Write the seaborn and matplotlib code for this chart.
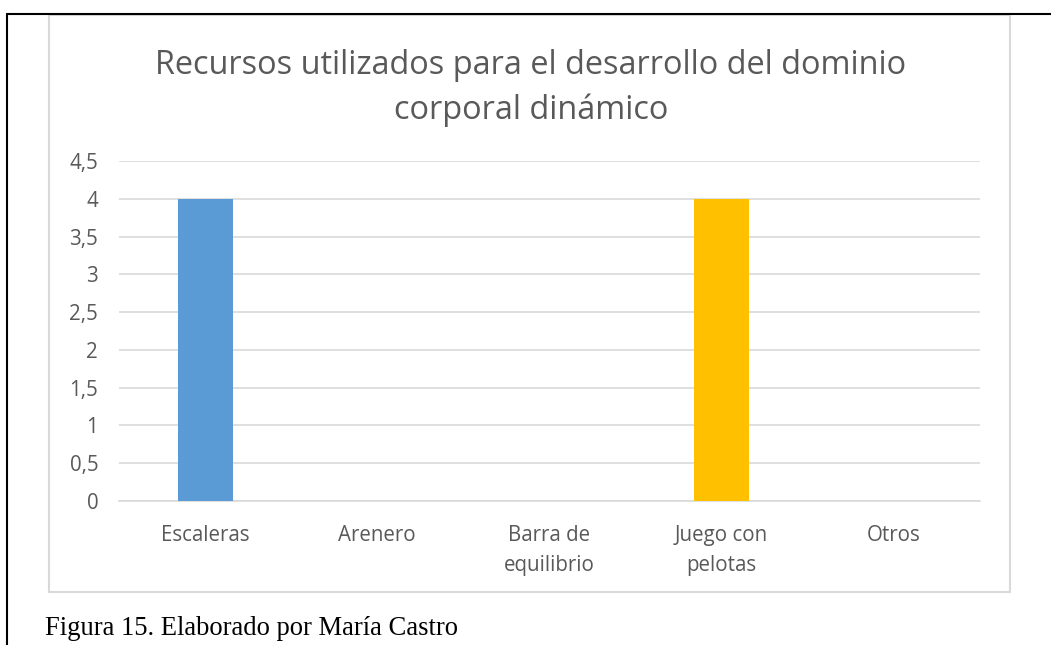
import pandas as pd
import matplotlib
matplotlib.use('Agg')
import matplotlib.pyplot as plt
from matplotlib.patches import Rectangle
from matplotlib.lines import Line2D
import seaborn as sns

# Données du graphique
categorias = ['Escaleras', 'Arenero', 'Barra de\nequilibrio', 'Juego con\npelotas', 'Otros']
valores = [4, 0, 0, 4, 0]
colores = ['#5B9BD5', '#ED7D31', '#A5A5A5', '#FFC000', '#4472C4']
etiquetas_y = ['0', '0,5', '1', '1,5', '2', '2,5', '3', '3,5', '4', '4,5']
titulo = 'Recursos utilizados para el desarrollo del dominio\ncorporal dinámico'
pie = 'Figura 15. Elaborado por María Castro'

df = pd.DataFrame({'categoria': categorias, 'valor': valores})

sns.set_style('white')
plt.rcParams['font.family'] = ['Open Sans', 'DejaVu Sans']

fig = plt.figure(figsize=(10.51, 6.45), dpi=100)
ax = fig.add_axes([119 / 1051, 1 - 501 / 645, (980 - 119) / 1051, (501 - 161) / 645])

sns.barplot(data=df, x='categoria', y='valor', hue='categoria', palette=colores,
            width=0.32, legend=False, ax=ax, saturation=1, linewidth=0, zorder=3)

ax.set_ylim(0, 4.5)
ax.set_xlim(-0.5, 4.5)
ticks = [i * 0.5 for i in range(len(etiquetas_y))]
ax.set_yticks(ticks)
ax.set_yticklabels(etiquetas_y)
ax.yaxis.grid(True, color='#D9D9D9', linewidth=1.2, zorder=0)
ax.set_axisbelow(True)
for s in ['top', 'right', 'left']:
    ax.spines[s].set_visible(False)
ax.spines['bottom'].set_color('#D9D9D9')
ax.spines['bottom'].set_linewidth(1.2)
ax.tick_params(axis='both', length=0, labelsize=14.8, labelcolor='#595959')
ax.tick_params(axis='y', pad=15)
ax.tick_params(axis='x', pad=17)
for lbl in ax.get_xticklabels():
    lbl.set_linespacing(1.6)
ax.set_xlabel('')
ax.set_ylabel('')

# Titre
fig.text(531 / 1051, 1 - 88 / 645, titulo, ha='center', va='center',
         fontsize=23.4, color='#595959', linespacing=1.42)

# Cadre de la zone du graphique
fig.patches.append(Rectangle((49 / 1051, 1 - 592 / 645), (1010 - 49) / 1051, (592 - 15) / 645,
                             transform=fig.transFigure, fill=False,
                             edgecolor='#D9D9D9', linewidth=1.5))

# Bordures noires (haut et gauche)
fig.lines.append(Line2D([7 / 1051, 1], [1 - 14 / 645, 1 - 14 / 645],
                        transform=fig.transFigure, color='black', linewidth=1.5))
fig.lines.append(Line2D([7 / 1051, 7 / 1051], [0, 1 - 14 / 645],
                        transform=fig.transFigure, color='black', linewidth=1.5))

# Légende de la figure
fig.text(45 / 1051, 1 - 635 / 645, pie, ha='left', va='baseline',
         fontsize=19.2, color='black', family=['Liberation Serif', 'DejaVu Serif'])

fig.savefig('out.png', dpi=100)
